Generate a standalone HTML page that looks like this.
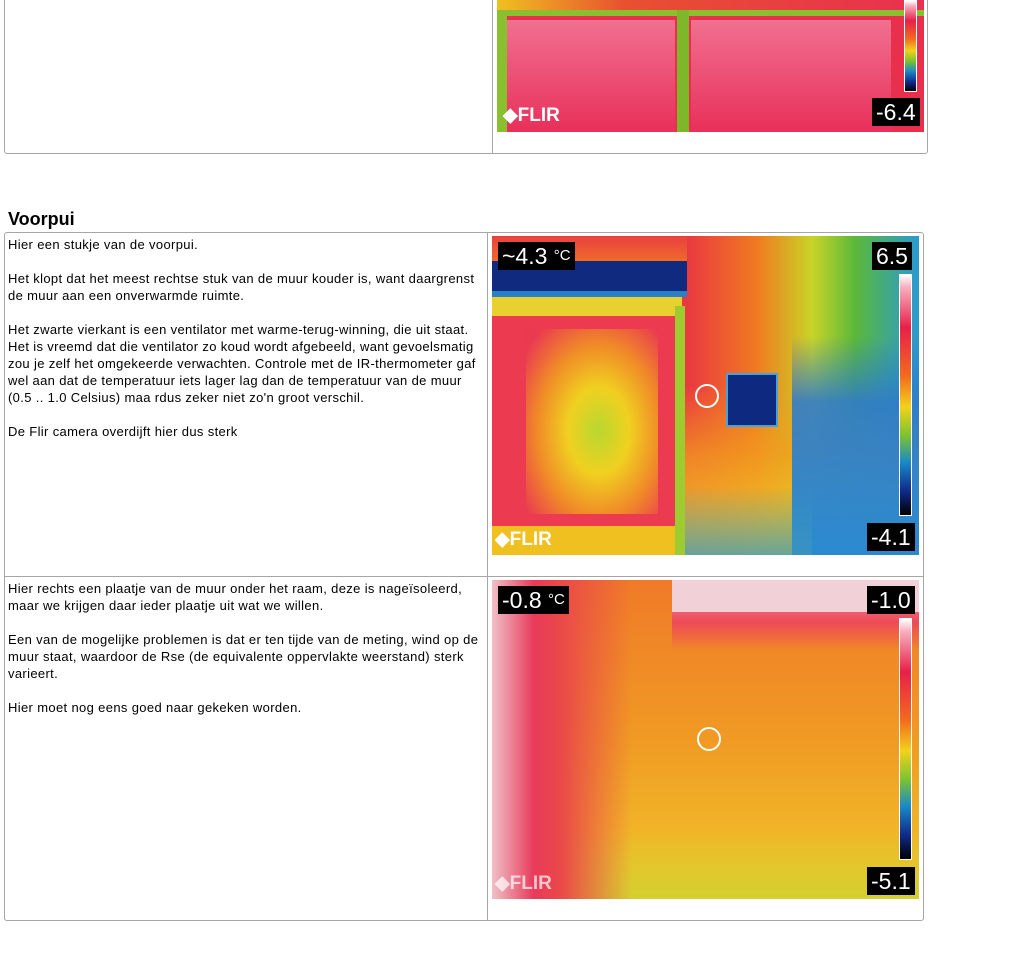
<!DOCTYPE html>
<html><head><meta charset="utf-8"><style>
body{margin:0;width:1015px;height:960px;background:#fff;position:relative;overflow:hidden;font-family:"Liberation Sans",sans-serif}
.abs{position:absolute}
.tbl{position:absolute;border:1px solid #a6a6a6;border-radius:3px}
.txt{position:absolute;font-size:13px;line-height:17px;color:#000;letter-spacing:0.35px;white-space:nowrap}
.lbl{position:absolute;background:#000;color:#fff;font-size:23px;line-height:28px;padding:0 4px}
.cbar{position:absolute;width:11px;border:1px solid #fff;background:linear-gradient(to bottom,#fff 0%,#f8b0c0 5%,#e8204a 22%,#f26a1e 42%,#f2d21a 55%,#7cc230 67%,#1a8ac8 78%,#102a8a 90%,#000 100%)}
.flir{position:absolute;color:#fff;font-weight:bold;font-size:19px}
</style></head><body>

<div class="tbl" style="left:4px;top:-5px;width:922px;height:157px"></div>
<div class="abs" style="left:492px;top:0;width:1px;height:153px;background:#a6a6a6"></div>
<div class="abs" style="left:497px;top:0;width:427px;height:132px;background:#e8304c;overflow:hidden">
  <div class="abs" style="left:0;top:0;width:427px;height:14px;background:linear-gradient(to right,#f0c020,#e85030 30%,#e83050)"></div>
  <div class="abs" style="left:0;top:10px;width:427px;height:6px;background:#8ac030"></div>
  <div class="abs" style="left:0;top:16px;width:10px;height:116px;background:#8ac030"></div>
  <div class="abs" style="left:180px;top:10px;width:12px;height:122px;background:#7cb82a"></div>
  <div class="abs" style="left:10px;top:20px;width:168px;height:112px;background:linear-gradient(#f07090,#e8305a)"></div>
  <div class="abs" style="left:194px;top:20px;width:200px;height:112px;background:linear-gradient(#f07090,#e8305a)"></div>
  <div class="cbar" style="left:407px;top:0;height:90px"></div>
  <div class="lbl" style="left:375px;top:98px">-6.4</div>
  <div class="flir" style="left:6px;top:104px">◆FLIR</div>
</div>

<div class="abs" style="left:8px;top:208px;font-size:18px;font-weight:bold;line-height:22px">Voorpui</div>

<div class="tbl" style="left:4px;top:232px;width:918px;height:687px"></div>
<div class="abs" style="left:487px;top:233px;width:1px;height:687px;background:#a6a6a6"></div>
<div class="abs" style="left:5px;top:576px;width:918px;height:1px;background:#a6a6a6"></div>

<div class="txt" style="left:8px;top:236px">Hier een stukje van de voorpui.<br><br>Het klopt dat het meest rechtse stuk van de muur kouder is, want daargrenst<br>de muur aan een onverwarmde ruimte.<br><br>Het zwarte vierkant is een ventilator met warme-terug-winning, die uit staat.<br>Het is vreemd dat die ventilator zo koud wordt afgebeeld, want gevoelsmatig<br>zou je zelf het omgekeerde verwachten. Controle met de IR-thermometer gaf<br>wel aan dat de temperatuur iets lager lag dan de temperatuur van de muur<br>(0.5 .. 1.0 Celsius) maa rdus zeker niet zo'n groot verschil.<br><br>De Flir camera overdijft hier dus sterk</div>

<div class="abs" style="left:492px;top:236px;width:427px;height:319px;overflow:hidden;background:linear-gradient(to right,#e8304a 0%,#ea3a40 46%,#f07a20 62%,#c8d428 75%,#5cb83a 85%,#2a9ad0 100%)">
  <div class="abs" style="left:0;top:150px;width:427px;height:169px;background:linear-gradient(to bottom,rgba(242,140,30,0) 0%,rgba(242,160,30,.7) 40%,rgba(240,210,40,.9) 100%)"></div>
  <div class="abs" style="left:300px;top:100px;width:127px;height:219px;background:linear-gradient(to bottom,rgba(40,130,210,0),rgba(40,120,210,.85) 30%,#2a8ad0)"></div>
  <div class="abs" style="left:180px;top:250px;width:140px;height:69px;background:linear-gradient(to bottom,rgba(80,170,120,0),rgba(60,150,190,.75))"></div>
  <div class="abs" style="left:0;top:0;width:195px;height:25px;background:linear-gradient(#e84040,#f06a2a)"></div>
  <div class="abs" style="left:0;top:25px;width:195px;height:30px;background:#102a80;border-bottom:6px solid #2a80c8"></div>
  <div class="abs" style="left:0;top:61px;width:190px;height:20px;background:#e8d030"></div>
  <div class="abs" style="left:183px;top:70px;width:10px;height:249px;background:#9ccc30"></div>
  <div class="abs" style="left:0;top:80px;width:183px;height:210px;background:#ec3a50"></div>
  <div class="abs" style="left:34px;top:93px;width:132px;height:185px;background:radial-gradient(ellipse at 55% 55%,#b8d830 0%,#f0d020 30%,#f08a28 60%,#ea3a50 90%)"></div>
  <div class="abs" style="left:0;top:290px;width:183px;height:29px;background:#f0c020"></div>
  <div class="abs" style="left:234px;top:137px;width:48px;height:50px;background:#0e2a80;border:2px solid #4aa0d8"></div>
  <div class="abs" style="left:203px;top:148px;width:20px;height:20px;border:2px solid #fff;border-radius:50%"></div>
  <div class="cbar" style="left:407px;top:38px;height:240px"></div>
  <div class="lbl" style="left:6px;top:6px">~4.3 <span style="font-size:15px;vertical-align:top">°C</span></div>
  <div class="lbl" style="left:380px;top:6px">6.5</div>
  <div class="lbl" style="left:375px;top:287px">-4.1</div>
  <div class="flir" style="left:3px;top:292px">◆FLIR</div>
</div>

<div class="txt" style="left:8px;top:580px">Hier rechts een plaatje van de muur onder het raam, deze is nageïsoleerd,<br>maar we krijgen daar ieder plaatje uit wat we willen.<br><br>Een van de mogelijke problemen is dat er ten tijde van de meting, wind op de<br>muur staat, waardoor de Rse (de equivalente oppervlakte weerstand) sterk<br>varieert.<br><br>Hier moet nog eens goed naar gekeken worden.</div>

<div class="abs" style="left:492px;top:580px;width:427px;height:319px;overflow:hidden;background:linear-gradient(to bottom,#f07a28 0%,#f09a24 50%,#f2c82a 100%)">
  <div class="abs" style="left:180px;top:0;width:247px;height:70px;background:linear-gradient(to bottom,#f4a0b0,#ee4a58 60%,rgba(240,110,40,0))"></div>
  <div class="abs" style="left:180px;top:0;width:247px;height:32px;background:#f2d0d8"></div>
  <div class="abs" style="left:0;top:250px;width:427px;height:69px;background:linear-gradient(to bottom,rgba(240,200,40,0),rgba(200,210,50,.7))"></div>
  <div class="abs" style="left:0;top:0;width:140px;height:319px;background:linear-gradient(to right,#f0c0c8,#e83a5a 30%,#ea4a48 50%,rgba(240,110,40,0))"></div>
  <div class="abs" style="left:205px;top:147px;width:20px;height:20px;border:2px solid #fff;border-radius:50%"></div>
  <div class="cbar" style="left:407px;top:38px;height:240px"></div>
  <div class="lbl" style="left:6px;top:6px">-0.8 <span style="font-size:15px;vertical-align:top">°C</span></div>
  <div class="lbl" style="left:375px;top:6px">-1.0</div>
  <div class="lbl" style="left:375px;top:287px">-5.1</div>
  <div class="flir" style="left:3px;top:292px;opacity:.7">◆FLIR</div>
</div>

</body></html>
